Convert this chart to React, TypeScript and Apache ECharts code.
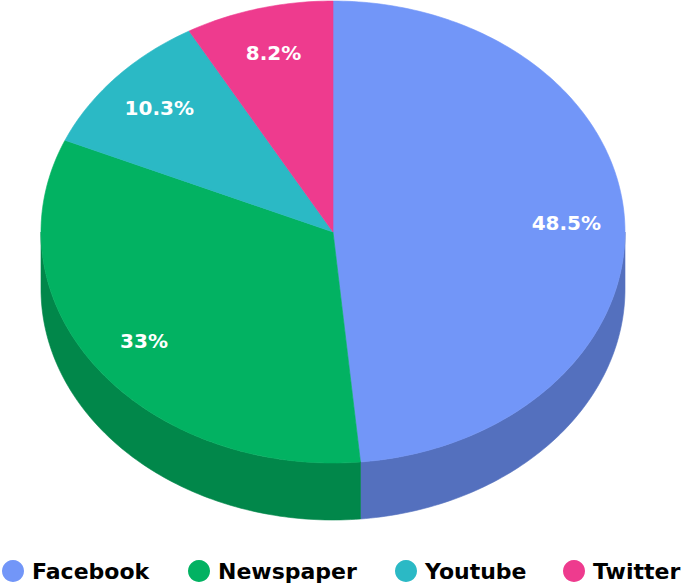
import React, { useEffect, useRef } from "react";
import * as echarts from "echarts";

const categories = ["Facebook", "Newspaper", "Youtube", "Twitter"];
const values = [48.5, 33, 10.3, 8.2];
const labelTexts = ["48.5%", "33%", "10.3%", "8.2%"];
const topColors = ["#7296F8", "#02B262", "#2BB9C5", "#EE3B8E"];
const sideColors = ["#5470BE", "#01874A", "#22949E", "#BE2F72"];

// layout (pixels)
const CX = 333;
const CY = 232;
const RX = 292;
const RY = 231;
const DEPTH = 57;
const LABEL_R = 0.8;
const legendLefts = [2, 188, 395, 563];
const legendTop = 560;

function pt(theta: number, dy = 0): number[] {
  return [CX + RX * Math.sin(theta), CY - RY * Math.cos(theta) + dy];
}

function arcPoints(a: number, b: number, dy = 0): number[][] {
  const pts: number[][] = [];
  const n = Math.max(2, Math.ceil(((b - a) * 180) / Math.PI));
  for (let k = 0; k <= n; k++) pts.push(pt(a + ((b - a) * k) / n, dy));
  return pts;
}

export default function App() {
  const ref = useRef<HTMLDivElement>(null);
  useEffect(() => {
    if (!ref.current) return;
    const chart = echarts.init(ref.current, undefined, { renderer: "svg" });
    const total = values.reduce((s, v) => s + v, 0);
    const series = categories.map((name, i) => {
      const before = values.slice(0, i).reduce((s, v) => s + v, 0);
      return {
        type: "custom",
        name,
        coordinateSystem: "none",
        itemStyle: { color: topColors[i] },
        data: [[values[i]]],
        renderItem: (params: any, api: any) => {
          const v = api.value(0);
          const a = (before / total) * Math.PI * 2;
          const b = ((before + v) / total) * Math.PI * 2;
          const children: any[] = [];
          const sa = Math.max(a, Math.PI / 2);
          const sb = Math.min(b, (Math.PI * 3) / 2);
          if (sa < sb) {
            const topEdge = arcPoints(sa, sb, 0);
            const botEdge = arcPoints(sa, sb, DEPTH).reverse();
            children.push({
              type: "polygon",
              shape: { points: topEdge.concat(botEdge) },
              style: { fill: sideColors[i], stroke: sideColors[i], lineWidth: 0.6 },
            });
          }
          children.push({
            type: "polygon",
            shape: { points: [[CX, CY]].concat(arcPoints(a, b, 0)) },
            style: { fill: topColors[i], stroke: topColors[i], lineWidth: 0.6 },
          });
          const m = (a + b) / 2;
          children.push({
            type: "text",
            x: CX + RX * LABEL_R * Math.sin(m),
            y: CY - RY * LABEL_R * Math.cos(m),
            style: {
              text: labelTexts[i],
              fill: "#ffffff",
              font: "bold 20px 'DejaVu Sans'",
              align: "center",
              verticalAlign: "middle",
            },
          });
          return { type: "group", children };
        },
      };
    });
    const legend = categories.map((name, i) => ({
      data: [name],
      left: legendLefts[i],
      top: legendTop,
      padding: 0,
      icon: "circle",
      itemWidth: 22,
      itemHeight: 22,
      selectedMode: false,
      textStyle: {
        fontFamily: "DejaVu Sans",
        fontWeight: "bold",
        fontSize: 22,
        color: "#000000",
        padding: [0, 0, 0, 3],
        lineHeight: 22,
      },
    }));
    chart.setOption({
      animation: false,
      backgroundColor: "#ffffff",
      legend,
      series,
    });
    return () => chart.dispose();
  }, []);
  return (
    <div
      ref={ref}
      style={{ position: "fixed", left: 0, top: 0, width: 685, height: 587 }}
    />
  );
}
